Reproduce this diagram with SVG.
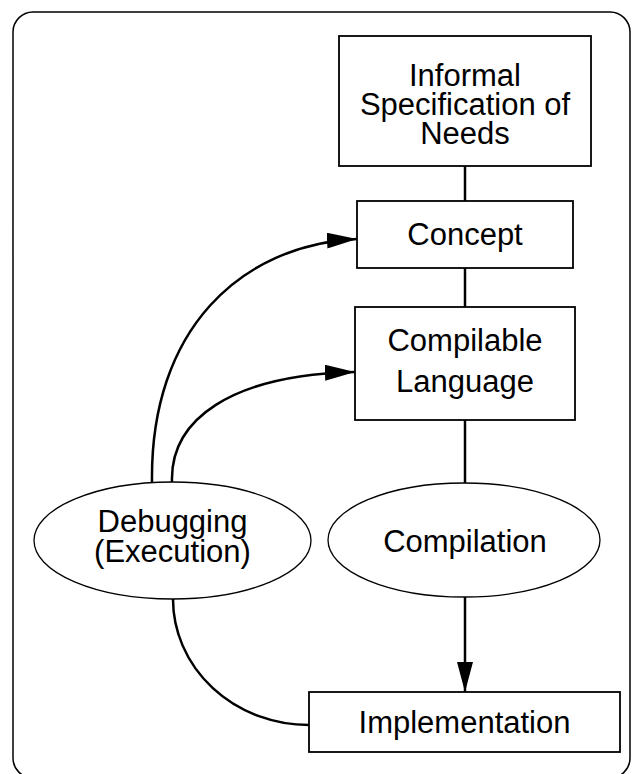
<svg xmlns="http://www.w3.org/2000/svg" width="633" height="774" viewBox="0 0 633 774">
  <style>
    .frame { fill: #ffffff; stroke: #000000; stroke-width: 1.5; }
    .box { fill: #ffffff; stroke: #000000; stroke-width: 1.8; }
    .oval { fill: #ffffff; stroke: #000000; stroke-width: 1.3; }
    .label { font-family: "Liberation Sans", Arial, Helvetica, sans-serif; font-size: 31px; fill: #000000; text-anchor: middle; }
    .link { fill: none; stroke: #000000; stroke-width: 2.5; }
  </style>
  <defs>
    <marker id="arrow" viewBox="0 0 30 16" refX="30" refY="8" markerWidth="30" markerHeight="16" markerUnits="userSpaceOnUse" orient="auto">
      <path d="M0,0 L30,8 L0,16 Z" fill="#000000"/>
    </marker>
  </defs>

  <!-- outer frame -->
  <rect class="frame" x="13" y="12" width="617" height="766" rx="20" ry="20"/>

  <!-- connectors -->
  <g id="connectors">
    <line class="link" x1="465" y1="166" x2="465" y2="201"/>
    <line class="link" x1="465" y1="268" x2="465" y2="307"/>
    <line class="link" x1="465" y1="420" x2="465" y2="483"/>
    <line class="link" x1="465" y1="597" x2="465" y2="692" marker-end="url(#arrow)"/>
    <path class="link" d="M152,482 C150,330 240,245 357,239" marker-end="url(#arrow)"/>
    <path class="link" d="M172,482 C170,420 230,375 355,372" marker-end="url(#arrow)"/>
    <path class="link" d="M173,599 A136,126 0 0 0 309,725"/>
  </g>

  <!-- nodes -->
  <g id="needs">
    <rect class="box" x="339" y="36" width="252" height="130"/>
    <text class="label" x="465" y="86">Informal</text>
    <text class="label" x="465" y="115">Specification of</text>
    <text class="label" x="465" y="144">Needs</text>
  </g>

  <g id="concept">
    <rect class="box" x="357" y="201" width="216" height="67"/>
    <text class="label" x="465" y="245">Concept</text>
  </g>

  <g id="compilable-language">
    <rect class="box" x="355" y="307" width="220" height="113"/>
    <text class="label" x="465" y="351">Compilable</text>
    <text class="label" x="465" y="392">Language</text>
  </g>

  <g id="debugging">
    <ellipse class="oval" cx="172.5" cy="540.5" rx="138.5" ry="58.5"/>
    <text class="label" x="172.5" y="532">Debugging</text>
    <text class="label" x="172.5" y="562">(Execution)</text>
  </g>

  <g id="compilation">
    <ellipse class="oval" cx="464" cy="540" rx="136" ry="57"/>
    <text class="label" x="465" y="552">Compilation</text>
  </g>

  <g id="implementation">
    <rect class="box" x="309" y="692" width="311" height="60"/>
    <text class="label" x="464.5" y="733">Implementation</text>
  </g>
</svg>
